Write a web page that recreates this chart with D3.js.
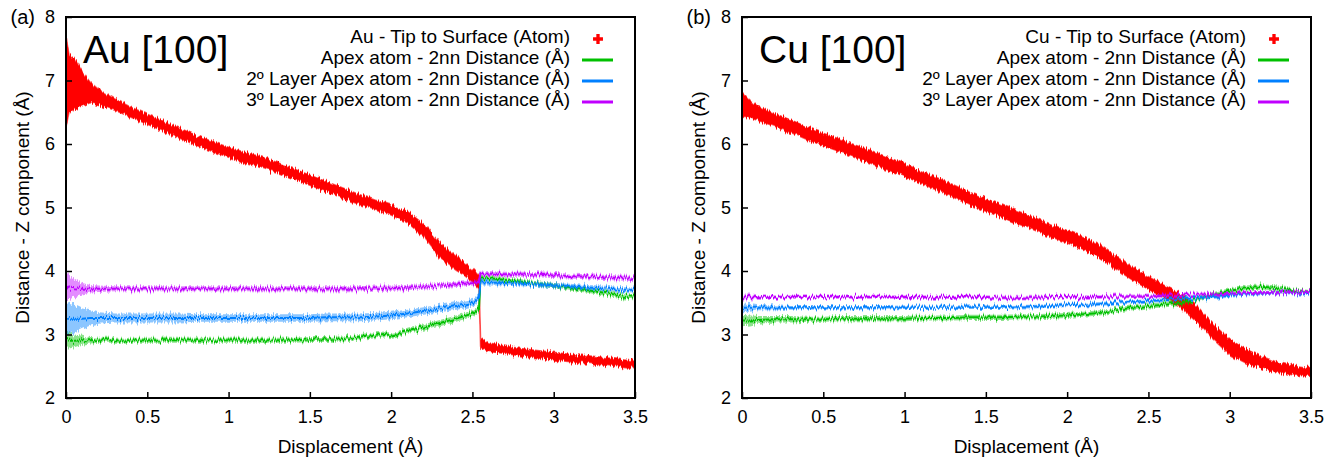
<!DOCTYPE html>
<html>
<head>
<meta charset="utf-8">
<script src="https://d3js.org/d3.v7.min.js"></script>
<style>
    body { margin: 0; background: #fff; }
    text { font-family: "Liberation Sans", Arial, sans-serif; fill: #000; }
</style>
</head>
<body>
<div id="chart"></div>
<script>
// ---- data (displacement in Å, distances in Å) ----

// (a) Au [100]
let auX = [0, 0.02, 0.05, 0.1, 0.15, 0.2, 0.3, 0.4, 0.5, 0.6, 0.7, 0.8, 0.9, 1.0, 1.1, 1.2, 1.3, 1.4, 1.5, 1.6, 1.7,
    1.8, 1.9, 2.0, 2.1, 2.2, 2.3, 2.4, 2.45, 2.5, 2.54, 2.55, 2.6, 2.7, 2.8, 2.9, 3.0, 3.1, 3.2, 3.3, 3.4, 3.5];
let auTip = [6.98, 6.95, 6.95, 6.87, 6.81, 6.74, 6.62, 6.50, 6.39, 6.28, 6.17, 6.06, 5.96, 5.87, 5.79, 5.72, 5.63, 5.53, 5.43, 5.33, 5.23,
    5.13, 5.04, 4.96, 4.85, 4.64, 4.32, 4.12, 4.03, 3.93, 3.82, 2.88, 2.80, 2.76, 2.72, 2.69, 2.66, 2.63, 2.61, 2.58, 2.55, 2.52];
let auTipSpread = [0.73, 0.45, 0.40, 0.27, 0.16, 0.12, 0.09, 0.08, 0.08, 0.08, 0.08, 0.08, 0.08, 0.08, 0.08, 0.08, 0.08, 0.08, 0.08, 0.08, 0.08,
    0.08, 0.08, 0.08, 0.09, 0.10, 0.12, 0.11, 0.10, 0.10, 0.10, 0.08, 0.07, 0.06, 0.06, 0.06, 0.06, 0.06, 0.06, 0.06, 0.06, 0.06];
let auApex1 = [2.92, 2.90, 2.90, 2.91, 2.91, 2.91, 2.91, 2.91, 2.91, 2.91, 2.91, 2.91, 2.91, 2.91, 2.91, 2.91, 2.91, 2.91, 2.92, 2.92, 2.93,
    2.95, 2.98, 3.00, 3.05, 3.11, 3.18, 3.25, 3.29, 3.33, 3.40, 3.88, 3.89, 3.86, 3.83, 3.80, 3.77, 3.73, 3.70, 3.66, 3.62, 3.59];
let auApex1Spread = [0.14, 0.12, 0.10, 0.07, 0.05, 0.04, 0.04, 0.04, 0.04, 0.04, 0.04, 0.04, 0.04, 0.04, 0.04, 0.04, 0.04, 0.04, 0.04, 0.04, 0.04,
    0.04, 0.04, 0.04, 0.04, 0.05, 0.05, 0.05, 0.05, 0.05, 0.05, 0.04, 0.04, 0.04, 0.04, 0.04, 0.04, 0.04, 0.04, 0.04, 0.04, 0.04];
let auApex2 = [3.25, 3.25, 3.25, 3.25, 3.26, 3.26, 3.26, 3.26, 3.26, 3.26, 3.26, 3.26, 3.26, 3.26, 3.26, 3.26, 3.26, 3.26, 3.26, 3.27, 3.27,
    3.27, 3.28, 3.30, 3.33, 3.37, 3.41, 3.45, 3.47, 3.50, 3.58, 3.82, 3.82, 3.81, 3.80, 3.79, 3.77, 3.76, 3.74, 3.73, 3.71, 3.70];
let auApex2Spread = [0.28, 0.25, 0.22, 0.16, 0.12, 0.09, 0.07, 0.07, 0.07, 0.07, 0.07, 0.06, 0.06, 0.06, 0.06, 0.06, 0.06, 0.06, 0.06, 0.06, 0.06,
    0.06, 0.06, 0.06, 0.06, 0.06, 0.06, 0.06, 0.06, 0.06, 0.06, 0.05, 0.05, 0.04, 0.04, 0.04, 0.04, 0.04, 0.04, 0.04, 0.04, 0.04];
let auApex3 = [3.78, 3.74, 3.73, 3.72, 3.72, 3.72, 3.72, 3.72, 3.72, 3.72, 3.72, 3.72, 3.72, 3.72, 3.72, 3.72, 3.72, 3.72, 3.72, 3.72, 3.72,
    3.72, 3.73, 3.73, 3.74, 3.75, 3.77, 3.79, 3.80, 3.81, 3.83, 3.95, 3.96, 3.95, 3.95, 3.94, 3.93, 3.92, 3.91, 3.90, 3.89, 3.88];
let auApex3Spread = [0.22, 0.18, 0.15, 0.09, 0.06, 0.05, 0.04, 0.04, 0.04, 0.04, 0.04, 0.04, 0.04, 0.04, 0.04, 0.04, 0.04, 0.04, 0.04, 0.04, 0.04,
    0.04, 0.04, 0.04, 0.04, 0.04, 0.04, 0.04, 0.04, 0.04, 0.04, 0.04, 0.04, 0.04, 0.04, 0.04, 0.04, 0.04, 0.04, 0.04, 0.04, 0.04];

// (b) Cu [100]
let cuX = [0, 0.05, 0.1, 0.2, 0.3, 0.4, 0.5, 0.6, 0.7, 0.8, 0.9, 1.0, 1.1, 1.2, 1.3, 1.4, 1.5, 1.6, 1.7, 1.8, 1.9,
    2.0, 2.1, 2.2, 2.3, 2.4, 2.5, 2.6, 2.7, 2.8, 2.9, 3.0, 3.1, 3.2, 3.3, 3.4, 3.5];
let cuTip = [6.62, 6.55, 6.48, 6.38, 6.28, 6.17, 6.07, 5.98, 5.88, 5.79, 5.69, 5.59, 5.48, 5.37, 5.26, 5.14, 5.04, 4.94, 4.84, 4.74, 4.64,
    4.54, 4.44, 4.31, 4.13, 3.96, 3.81, 3.67, 3.53, 3.31, 3.04, 2.80, 2.66, 2.56, 2.48, 2.43, 2.40];
let cuTipSpread = [0.20, 0.14, 0.11, 0.10, 0.10, 0.10, 0.10, 0.10, 0.10, 0.10, 0.10, 0.10, 0.10, 0.10, 0.10, 0.10, 0.10, 0.10, 0.10, 0.10, 0.10,
    0.10, 0.10, 0.10, 0.10, 0.10, 0.10, 0.10, 0.11, 0.12, 0.12, 0.12, 0.11, 0.09, 0.08, 0.07, 0.06];
let cuApex1 = [3.22, 3.22, 3.23, 3.24, 3.24, 3.24, 3.24, 3.25, 3.25, 3.25, 3.25, 3.25, 3.26, 3.26, 3.26, 3.27, 3.27, 3.27, 3.28, 3.28, 3.29,
    3.30, 3.32, 3.34, 3.38, 3.42, 3.45, 3.47, 3.49, 3.55, 3.63, 3.69, 3.73, 3.75, 3.73, 3.69, 3.67];
let cuApex1Spread = [0.09, 0.08, 0.06, 0.05, 0.05, 0.04, 0.04, 0.04, 0.04, 0.04, 0.04, 0.04, 0.04, 0.04, 0.04, 0.04, 0.04, 0.04, 0.04, 0.04, 0.04,
    0.04, 0.04, 0.04, 0.04, 0.04, 0.04, 0.04, 0.04, 0.04, 0.04, 0.04, 0.04, 0.04, 0.04, 0.03, 0.03];
let cuApex2 = [3.42, 3.42, 3.42, 3.42, 3.42, 3.42, 3.42, 3.42, 3.42, 3.42, 3.42, 3.43, 3.43, 3.43, 3.43, 3.43, 3.43, 3.43, 3.44, 3.44, 3.45,
    3.46, 3.47, 3.48, 3.50, 3.51, 3.53, 3.54, 3.56, 3.57, 3.59, 3.61, 3.63, 3.65, 3.66, 3.66, 3.65];
let cuApex2Spread = [0.07, 0.06, 0.04, 0.04, 0.03, 0.03, 0.03, 0.03, 0.03, 0.03, 0.03, 0.03, 0.03, 0.03, 0.03, 0.03, 0.03, 0.03, 0.03, 0.03, 0.03,
    0.03, 0.03, 0.03, 0.03, 0.03, 0.03, 0.03, 0.03, 0.03, 0.03, 0.03, 0.03, 0.03, 0.03, 0.03, 0.03];
let cuApex3 = [3.59, 3.59, 3.59, 3.59, 3.59, 3.59, 3.59, 3.59, 3.59, 3.59, 3.59, 3.59, 3.59, 3.59, 3.59, 3.59, 3.59, 3.58, 3.58, 3.58, 3.59,
    3.59, 3.59, 3.59, 3.60, 3.60, 3.60, 3.61, 3.62, 3.63, 3.63, 3.64, 3.65, 3.66, 3.66, 3.67, 3.67];
let cuApex3Spread = [0.04, 0.04, 0.03, 0.03, 0.03, 0.03, 0.03, 0.03, 0.03, 0.03, 0.03, 0.03, 0.03, 0.03, 0.03, 0.03, 0.03, 0.03, 0.03, 0.03, 0.03,
    0.03, 0.03, 0.03, 0.03, 0.03, 0.03, 0.03, 0.03, 0.03, 0.03, 0.03, 0.03, 0.03, 0.03, 0.03, 0.03];

let xTicks = [0, 0.5, 1, 1.5, 2, 2.5, 3, 3.5];
let yTicks = [2, 3, 4, 5, 6, 7, 8];
let apexNames = ["Apex atom - 2nn Distance (Å)", "2º Layer Apex atom - 2nn Distance (Å)", "3º Layer Apex atom - 2nn Distance (Å)"];
let apexColors = ["#00c000", "#0080ff", "#c000ff"];
let tipColor = "#ff0000";

/*
 * DistancePanel - one of the two tip/surface plots
 */
class DistancePanel {

    constructor(svg, config) {
        this.svg = svg;
        this.config = config;

        this.initVis();
    }

    initVis() {
        let vis = this;

        vis.margin = { top: 17, left: vis.config.left };
        vis.width = 569;
        vis.height = 381;

        vis.g = vis.svg.append("g")
            .attr("transform", "translate(" + vis.margin.left + "," + vis.margin.top + ")");

        vis.x = d3.scaleLinear().domain([0, 3.5]).range([0, vis.width]);
        vis.y = d3.scaleLinear().domain([2, 8]).range([vis.height, 0]);

        // clip so the noisy bands stay inside the frame
        vis.svg.select("defs").append("clipPath")
            .attr("id", "clip-" + vis.config.id)
            .append("rect")
            .attr("width", vis.width)
            .attr("height", vis.height);

        vis.plot = vis.g.append("g")
            .attr("clip-path", "url(#clip-" + vis.config.id + ")");

        // axes (inward ticks, frame drawn separately)
        vis.g.append("g")
            .attr("class", "x-axis")
            .attr("transform", "translate(0," + vis.height + ")")
            .call(d3.axisBottom(vis.x).tickValues(xTicks).tickFormat(d3.format("~g"))
                .tickSizeInner(-6).tickSizeOuter(0).tickPadding(12));

        vis.g.append("g")
            .attr("class", "y-axis")
            .call(d3.axisLeft(vis.y).tickValues(yTicks).tickFormat(d3.format("d"))
                .tickSizeInner(-6).tickSizeOuter(0).tickPadding(11));

        vis.g.selectAll(".domain").remove();
        vis.g.selectAll(".tick line").attr("stroke", "#000").attr("stroke-width", 1.5);
        vis.g.selectAll(".tick text")
            .style("font-size", "18px")
            .style("font-family", "'Liberation Sans', Arial, sans-serif")
            .attr("fill", "#000");

        vis.g.append("rect")
            .attr("width", vis.width)
            .attr("height", vis.height)
            .attr("fill", "none")
            .attr("stroke", "#000")
            .attr("stroke-width", 2);

        // axis titles
        vis.g.append("text")
            .attr("x", vis.width / 2)
            .attr("y", vis.height + 55)
            .attr("text-anchor", "middle")
            .style("font-size", "19px")
            .text("Displacement (Å)");

        vis.g.append("text")
            .attr("transform", "translate(-37," + (vis.height / 2) + ") rotate(-90)")
            .attr("text-anchor", "middle")
            .style("font-size", "19px")
            .text("Distance - Z component (Å)");

        // panel letter and title
        vis.g.append("text")
            .attr("x", -31)
            .attr("y", 0)
            .attr("dy", "0.35em")
            .attr("text-anchor", "end")
            .style("font-size", "20px")
            .text(vis.config.letter);

        vis.g.append("text")
            .attr("x", 17)
            .attr("y", 46)
            .style("font-size", "39px")
            .text(vis.config.title);

        vis.wrangleData();
    }

    wrangleData() {
        let vis = this;

        let c = vis.config;
        vis.tipData = c.xs.map((x, i) => ({ x: x, y: c.tip[i], s: c.tipSpread[i] }));
        vis.apexData = c.apex.map((series, k) =>
            c.xs.map((x, i) => ({ x: x, y: series[i], s: c.apexSpread[k][i] })));

        vis.updateVis();
    }

    updateVis() {
        let vis = this;

        let band = d3.area()
            .x(d => vis.x(d.x))
            .y0(d => vis.y(d.y - d.s))
            .y1(d => vis.y(d.y + d.s));

        let mid = d3.line()
            .x(d => vis.x(d.x))
            .y(d => vis.y(d.y));

        // red scatter (tip to surface) as a ragged band
        vis.plot.append("path")
            .datum(vis.tipData)
            .attr("d", band)
            .attr("fill", tipColor)
            .attr("stroke", tipColor)
            .attr("stroke-width", 1.5)
            .attr("stroke-opacity", 0.6)
            .attr("filter", "url(#jitter)");

        // apex distance lines
        vis.apexData.forEach((data, k) => {
            vis.plot.append("path")
                .datum(data)
                .attr("d", band)
                .attr("fill", apexColors[k])
                .attr("fill-opacity", 0.45)
                .attr("filter", "url(#jitter)");

            vis.plot.append("path")
                .datum(data)
                .attr("d", mid)
                .attr("fill", "none")
                .attr("stroke", apexColors[k])
                .attr("stroke-width", 2)
                .attr("filter", "url(#jitter)");
        });

        // legend (no box), text right aligned
        let legend = vis.g.append("g").attr("class", "legend");
        let rows = [vis.config.tipName].concat(apexNames);
        let rowY = [20, 41, 62, 83];

        rows.forEach((name, i) => {
            legend.append("text")
                .attr("x", 504)
                .attr("y", rowY[i])
                .attr("dy", "0.34em")
                .attr("text-anchor", "end")
                .style("font-size", "19px")
                .text(name);

            if (i === 0) {
                legend.append("path")
                    .attr("d", d3.symbol(d3.symbolCross, 55)())
                    .attr("transform", "translate(532," + (rowY[i] + 2) + ")")
                    .attr("fill", tipColor);
            } else {
                legend.append("line")
                    .attr("x1", 516).attr("x2", 547)
                    .attr("y1", rowY[i] + 2).attr("y2", rowY[i] + 2)
                    .attr("stroke", apexColors[i - 1])
                    .attr("stroke-width", 3);
            }
        });
    }
}

let svg = d3.select("#chart").append("svg")
    .attr("width", 1336)
    .attr("height", 462);

let defs = svg.append("defs");

// small displacement filter to give the bands a noisy edge
let filter = defs.append("filter")
    .attr("id", "jitter")
    .attr("filterUnits", "userSpaceOnUse")
    .attr("x", 0).attr("y", 0)
    .attr("width", 1336).attr("height", 462);
filter.append("feTurbulence")
    .attr("type", "fractalNoise")
    .attr("baseFrequency", "0.7 0.03")
    .attr("numOctaves", 2)
    .attr("seed", 4)
    .attr("result", "noise");
filter.append("feColorMatrix")
    .attr("in", "noise")
    .attr("type", "matrix")
    .attr("values", "1 0 0 0 0  0 0 0 0 0.5  0 0 0 0 0  0 0 0 0 1")
    .attr("result", "map");
filter.append("feDisplacementMap")
    .attr("in", "SourceGraphic")
    .attr("in2", "map")
    .attr("scale", 9)
    .attr("xChannelSelector", "G")
    .attr("yChannelSelector", "R");

new DistancePanel(svg, {
    id: "au", left: 66, letter: "(a)", title: "Au [100]",
    tipName: "Au - Tip to Surface (Atom)",
    xs: auX, tip: auTip, tipSpread: auTipSpread,
    apex: [auApex1, auApex2, auApex3],
    apexSpread: [auApex1Spread, auApex2Spread, auApex3Spread]
});

new DistancePanel(svg, {
    id: "cu", left: 742, letter: "(b)", title: "Cu [100]",
    tipName: "Cu - Tip to Surface (Atom)",
    xs: cuX, tip: cuTip, tipSpread: cuTipSpread,
    apex: [cuApex1, cuApex2, cuApex3],
    apexSpread: [cuApex1Spread, cuApex2Spread, cuApex3Spread]
});
</script>
</body>
</html>
